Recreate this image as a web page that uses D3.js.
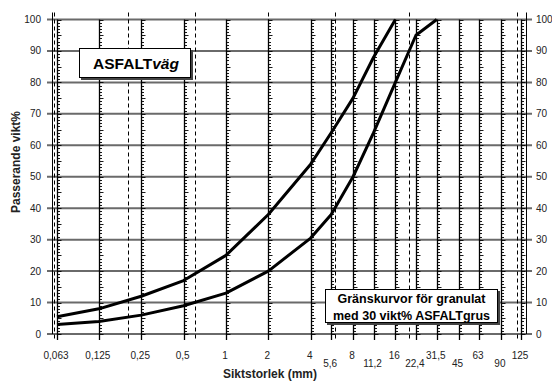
<!DOCTYPE html>
<html>
<head>
<meta charset="utf-8">
<script src="https://cdn.jsdelivr.net/npm/d3@7"></script>
<style>
  html, body { margin: 0; padding: 0; background: #fff; }
  svg { display: block; font-family: "Liberation Sans", Arial, sans-serif; }
</style>
</head>
<body>
<svg id="chart" width="552" height="381"></svg>
<script>
// Sieve sizes (mm) and their tick labels
const sieves = [0.063, 0.125, 0.25, 0.5, 1, 2, 4, 5.6, 8, 11.2, 16, 22.4, 31.5, 45, 63, 90, 125];
const sieveLabels = ['0,063', '0,125', '0,25', '0,5', '1', '2', '4', '5,6', '8', '11,2', '16', '22,4', '31,5', '45', '63', '90', '125'];
const lowRow = [5.6, 11.2, 22.4, 45, 90];

// Fraction boundaries (dashed lines)
const boundaries = [0.06, 0.2, 0.6, 2, 6, 20, 117];

// Y ticks
const yTicks = [0, 10, 20, 30, 40, 50, 60, 70, 80, 90, 100];

// Grading limits
const upperSizes = [0.063, 0.125, 0.25, 0.5, 1, 2, 4, 5.6, 8, 11.2, 16];
const upperPass = [5.5, 8, 12, 17, 25, 38, 54, 64, 75, 88, 100];
const lowerSizes = [0.063, 0.125, 0.25, 0.5, 1, 2, 4, 5.6, 8, 11.2, 16, 22.4, 31.5];
const lowerPass = [3, 4, 6, 9, 13, 20, 30.5, 38, 50, 64, 80, 95, 100];

const svg = d3.select('#chart');

const x = d3.scaleLog().domain([0.063, 125]).range([57, 521]);
const y = d3.scaleLinear().domain([0, 100]).range([334, 19.5]);

const xLeft = 52, xRight = 526;

// horizontal grid lines
svg.append('g')
  .selectAll('line')
  .data(yTicks)
  .join('line')
  .attr('x1', xLeft - 5)
  .attr('x2', xRight + 6)
  .attr('y1', d => y(d))
  .attr('y2', d => y(d))
  .attr('stroke', '#6a6a6a')
  .attr('stroke-width', 2);

// dashed boundary lines
svg.append('g')
  .selectAll('line')
  .data(boundaries)
  .join('line')
  .attr('x1', d => Math.round(x(d)) + 0.5)
  .attr('x2', d => Math.round(x(d)) + 0.5)
  .attr('y1', y(100) - 7)
  .attr('y2', y(0) + 6)
  .attr('stroke', '#000')
  .attr('stroke-width', 1)
  .attr('stroke-dasharray', '4,3');

// axis borders
svg.append('g')
  .selectAll('line')
  .data([xLeft, xRight])
  .join('line')
  .attr('x1', d => d + 0.5)
  .attr('x2', d => d + 0.5)
  .attr('y1', y(100) - 7)
  .attr('y2', y(0))
  .attr('stroke', '#000')
  .attr('stroke-width', 1);

// sieve rulers with percent ticks
const minor = d3.range(0, 101, 1);
const rulers = svg.append('g')
  .selectAll('g')
  .data(sieves)
  .join('g')
  .attr('transform', d => `translate(${Math.round(x(d)) + 0.5},0)`);

rulers.append('line')
  .attr('y1', y(100))
  .attr('y2', y(0) + 6)
  .attr('stroke', '#000')
  .attr('stroke-width', 1.3);

rulers.selectAll('line.tk')
  .data(minor)
  .join('line')
  .attr('class', 'tk')
  .attr('x1', 0)
  .attr('x2', d => d % 5 === 0 ? 4 : 2.5)
  .attr('y1', d => Math.round(y(d)) + 0.5)
  .attr('y2', d => Math.round(y(d)) + 0.5)
  .attr('stroke', '#000')
  .attr('stroke-width', 0.9);

// curves
const line = d3.line()
  .x(d => x(d[0]))
  .y(d => y(d[1]));

[[upperSizes, upperPass], [lowerSizes, lowerPass]].forEach(([s, p]) => {
  svg.append('path')
    .datum(s.map((v, i) => [v, p[i]]))
    .attr('d', line)
    .attr('fill', 'none')
    .attr('stroke', '#000')
    .attr('stroke-width', 3)
    .attr('stroke-linejoin', 'round');
});

// y labels left and right
svg.append('g')
  .selectAll('text')
  .data(yTicks)
  .join('text')
  .attr('x', 41)
  .attr('y', d => y(d) + 3.5)
  .attr('text-anchor', 'end')
  .style('font-size', '10px')
  .style('fill', '#222')
  .text(d => d);

svg.append('g')
  .selectAll('text')
  .data(yTicks)
  .join('text')
  .attr('x', 536)
  .attr('y', d => y(d) + 3.5)
  .attr('text-anchor', 'start')
  .style('font-size', '10px')
  .style('fill', '#222')
  .text(d => d);

// x labels
svg.append('g')
  .selectAll('text')
  .data(sieves)
  .join('text')
  .attr('x', d => x(d) - 1)
  .attr('y', d => lowRow.includes(d) ? 367 : 358.5)
  .attr('text-anchor', 'middle')
  .style('font-size', '10px')
  .style('fill', '#222')
  .text((d, i) => sieveLabels[i]);

// axis titles
svg.append('text')
  .attr('x', 270)
  .attr('y', 377.5)
  .attr('text-anchor', 'middle')
  .style('font-size', '12px')
  .style('font-weight', 'bold')
  .style('fill', '#222')
  .text('Siktstorlek (mm)');

svg.append('text')
  .attr('transform', 'translate(20,162) rotate(-90)')
  .attr('text-anchor', 'middle')
  .style('font-size', '12px')
  .style('font-weight', 'bold')
  .style('fill', '#222')
  .text('Passerande vikt%');

// title box
const box1 = svg.append('g');
box1.append('rect')
  .attr('x', 81).attr('y', 50).attr('width', 112).attr('height', 30)
  .attr('fill', '#444');
box1.append('rect')
  .attr('x', 79.5).attr('y', 48.5).attr('width', 111).attr('height', 29)
  .attr('fill', '#fff').attr('stroke', '#000').attr('stroke-width', 1);
const t1 = box1.append('text')
  .attr('x', 136)
  .attr('y', 69)
  .attr('text-anchor', 'middle')
  .style('font-size', '15.5px')
  .style('font-weight', 'bold')
  .style('fill', '#000');
t1.append('tspan').text('ASFALT');
t1.append('tspan').style('font-style', 'italic').text('väg');

// legend box
const box2 = svg.append('g');
box2.append('rect')
  .attr('x', 327).attr('y', 291).attr('width', 173).attr('height', 34)
  .attr('fill', '#444');
box2.append('rect')
  .attr('x', 325.5).attr('y', 289.5).attr('width', 172).attr('height', 33)
  .attr('fill', '#fff').attr('stroke', '#000').attr('stroke-width', 1);
box2.selectAll('text')
  .data(['Gränskurvor för granulat', 'med 30 vikt% ASFALTgrus'])
  .join('text')
  .attr('x', 411.5)
  .attr('y', (d, i) => 302.5 + i * 17.5)
  .attr('text-anchor', 'middle')
  .style('font-size', '12.5px')
  .style('font-weight', 'bold')
  .style('fill', '#000')
  .text(d => d);
</script>
</body>
</html>
